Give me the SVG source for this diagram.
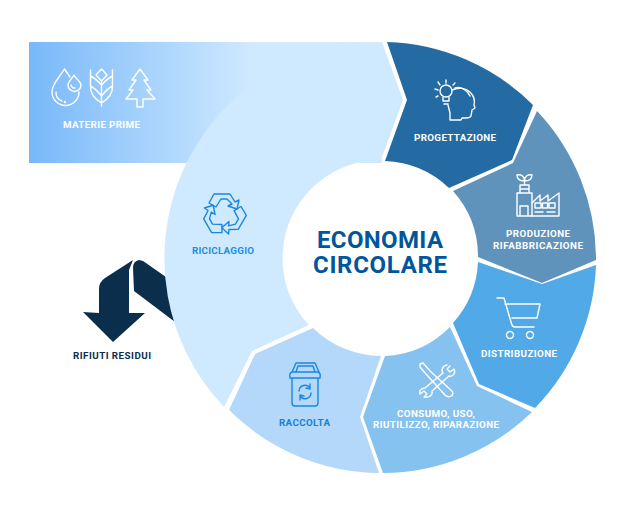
<svg xmlns="http://www.w3.org/2000/svg" xmlns:xlink="http://www.w3.org/1999/xlink" width="640" height="517" viewBox="0 0 640 517">
<style>
text{font-family:"Roboto","Liberation Sans",sans-serif;font-weight:700;text-anchor:middle;font-size:9.8px}
.w{fill:#fff}
.ic{fill:none;stroke:#fff;stroke-width:1.4;stroke-linecap:round;stroke-linejoin:round}
.ib{fill:none;stroke:#1b86e0;stroke-width:1.4;stroke-linecap:round;stroke-linejoin:round}
.t{fill:#00569b;font-size:24px}
</style>
<defs>
<linearGradient id="g" gradientUnits="userSpaceOnUse" x1="29" y1="0" x2="250" y2="0">
<stop offset="0" stop-color="#78b8f9"/><stop offset="1" stop-color="#cfe9ff"/>
</linearGradient>
<path id="ra" d="M-10,-20 L6,-20 L11,-12 L15,-14 L13,-5 L4,-8 L8,-10 L3,-15 L-3,-15 L-8,-7 L-15,-11 Z"/>
</defs>
<g id="materie-prime">
<rect x="29" y="42" width="353" height="121" fill="url(#g)"/>
</g>
<g id="rifiuti-residui">
<path d="M133,260 L105,278 Q99,282 99,289 L99,313 L83,312 L113,342 L145,313 L129,313 L129,270 Z" fill="#0c2e4d"/>
<path d="M139,260 Q133,261 133,268 L134,291 L175,322 L180,290 L166,277 L143,261 Z" fill="#0c2e4d"/>
<text x="112" y="359" fill="#0c2e4d" textLength="78">RIFIUTI RESIDUI</text>
</g>
<g id="riciclaggio">
<path d="M382,42 L403,100 L381,160 A98,98 0 0 0 309,325 L252,351 L224,407 A216,216 0 0 1 382,42 Z" fill="#cfe9ff"/>
<g class="ib" transform="translate(224,214)"><use xlink:href="#ra"/><use xlink:href="#ra" transform="rotate(120)"/><use xlink:href="#ra" transform="rotate(240)"/></g>
<text x="223" y="254" fill="#1c8ee6" textLength="62">RICICLAGGIO</text>
</g>
<g id="progettazione">
<path d="M387,42 A216,216 0 0 1 533,105 L512,160 L449,188 A98,98 0 0 0 385,161 L407,100 Z" fill="#256ba3"/>
<g class="ic">
<circle cx="446" cy="91" r="6"/><path d="M443,97 L443,101 L449,101 L449,97 M444,104 L448,104"/>
<path d="M446,80 L446,83 M438,82 L440,85 M455,83 L453,85 M435,89 L438,90 M436,97 L438,96"/>
<path d="M452,90 C458,87 466,88 470,92 C474,96 475,101 474,105 L475,108 L472,110 L471,116 Q470,118 466,118 L462,118 L461,120 L450,120 L450,113 L448,105"/>
<path d="M455,88 C461,86 467,90 470,96"/>
</g>
<text x="455" y="141" class="w" textLength="82">PROGETTAZIONE</text>
</g>
<g id="produzione">
<path d="M537,111 A216,216 0 0 1 596,260 L542,283 L478,257 A98,98 0 0 0 453,191 L513,163 Z" fill="#5f93bb"/>
<g class="ic">
<path d="M517,216 L517,193 L532,193 L532,216 Z M520,216 L520,206 L528,206 L528,216 M520,193 L520,185 L529,185 L529,193 M520,189 L529,189 M524.500,185 L524.500,181"/>
<path d="M524.500,181 C520,181 517,179 517,175 C521,174 524.500,176 524.500,181 C524.500,176 528,174 532,175 C532,179 529,181 524.500,181"/>
<path d="M532,203 L540,195 L540,201 L548,195 L548,201 L559,193 L559,216 L532,216 M535,203 h6 v5 h-6 z M542.500,203 h5 v5 h-5 z M549,203 h6 v5 h-6 z M535,212 L543,212 M547,212 L555,212"/>
</g>
<text x="538" y="237" class="w" textLength="64">PRODUZIONE</text>
<text x="538" y="248.500" class="w" textLength="90">RIFABBRICAZIONE</text>
</g>
<g id="distribuzione">
<path d="M596,265 A216,216 0 0 1 535,408 L479,384 L453,323 A98,98 0 0 0 478,262 L542,284 Z" fill="#52a9e8"/>
<g class="ic" stroke-width="1.700">
<path d="M497,298 L504,298 L511,322 Q512,327 515,327 L534,327 M505,304 L540,304 L537,318 L512,318"/>
<circle cx="510" cy="335" r="3.500"/><circle cx="530" cy="335" r="3.500"/>
</g>
<text x="519" y="357" class="w" textLength="76">DISTRIBUZIONE</text>
</g>
<g id="consumo">
<path d="M532,412 A216,216 0 0 1 383,473 L363,417 L385,356 A98,98 0 0 0 450,327 L477,386 Z" fill="#86c2ef"/>
<g class="ic">
<path d="M420,364 L423,363 L431,372 L452,391 Q454,395 451,396 Q448,398 445,395 L426,374 L420,367 Z"/>
<path d="M447,365 C442,366 441,371 443,373 L425,388 C420,388 419,392 420,394 L424,391 L427,394 L424,397 C429,398 433,395 432,391 L449,376 C453,377 456,373 454,369 L450,372 L447,369 L450,366"/>
</g>
<text x="436" y="416.500" class="w" textLength="78">CONSUMO, USO,</text>
<text x="436" y="427.500" class="w" textLength="126">RIUTILIZZO, RIPARAZIONE</text>
</g>
<g id="raccolta">
<path d="M229,410 A216,216 0 0 0 379,473 L360,417 L381,356 A98,98 0 0 1 313,328 L255,354 Z" fill="#b3d8fa"/>
<g class="ib" stroke-width="1.600">
<path d="M292,378 L292,403 Q292,406 295,406 L315,406 Q318,406 318,403 L318,378 M290,378 Q289,373 292,372 L318,372 Q321,373 320,378 Z M292,372 L296,363 L315,363 L319,372 M296,372 L298,366 L313,366 L315,372"/>
<path d="M299,391 A6,6 0 0 1 310,388 M311,393 A6,6 0 0 1 300,396 M310,384 L310,389 L306,388 M300,400 L300,395 L304,396"/>
</g>
<text x="304.500" y="425.500" fill="#1a7fd6" textLength="51">RACCOLTA</text>
</g>
<g id="materie-icons" class="ic">
<path d="M64.500,69 C59,78 52,84 52,92 A13.500,13.500 0 0 0 79,92 M64.500,69 L70,77"/>
<path d="M56,92 A9,9 0 0 0 62,101"/><circle cx="65" cy="102" r="0.500"/>
<path d="M74,75 C71,80 68,82 68,85 A6.500,6.500 0 0 0 81,85 C81,82 77,80 74,75 Z M71,85 A3.500,3.500 0 0 0 75,88"/>
<path d="M101.500,106 L101.500,81 M101.500,69 L107,75 L101.500,81 L96,75 Z M90.500,70 L90.500,76 Q95,78 101.500,85 Q108,78 112.500,76 L112.500,70 M90.500,76 L90.500,86 Q95,88 101.500,96 Q108,88 112.500,86 L112.500,76 M90.500,86 Q90,96 101.500,103 Q113,96 112.500,86"/>
<path d="M140,69 L148,80 L144,80 L151,90 L147,90 L155,99 L143,99 L143,107 L137,107 L137,99 L126,99 L133,90 L129,90 L136,80 L132,80 Z"/>
<text x="101.500" y="128" class="w" stroke="none" textLength="77">MATERIE PRIME</text>
</g>
<g id="centro">
<text x="380" y="248" class="t" textLength="126">ECONOMIA</text>
<text x="380" y="273" class="t" textLength="134">CIRCOLARE</text>
</g>
<g id="connectors"></g>
</svg>
